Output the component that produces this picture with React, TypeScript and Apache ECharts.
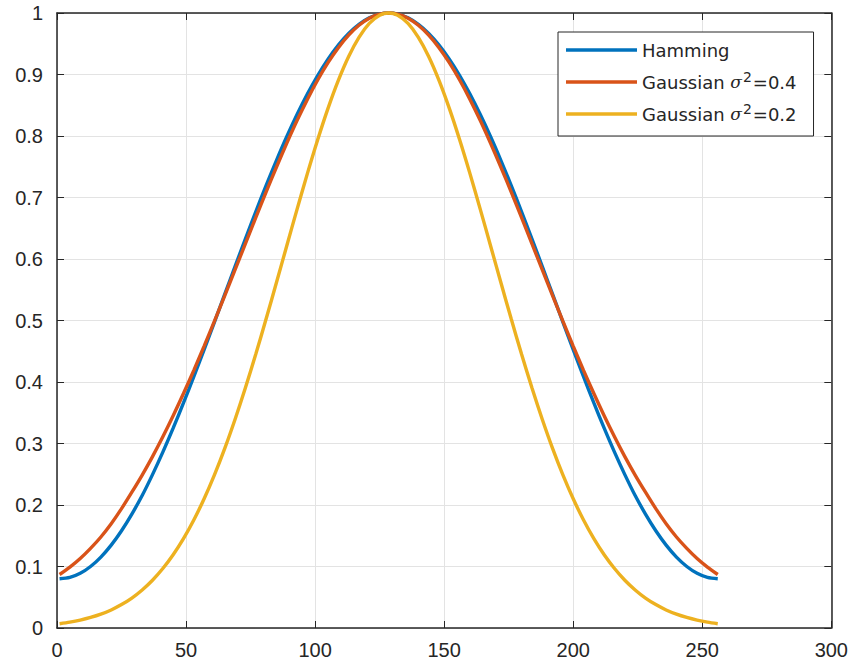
import React, { useEffect, useRef } from "react";
import * as echarts from "echarts";

const xValues = [
  1, 5, 9, 13, 17, 21, 25, 29, 33, 37, 41, 45, 49, 53, 57, 61, 65, 69, 73, 77,
  81, 85, 89, 93, 97, 101, 105, 109, 113, 117, 121, 125, 128.5,
  132, 136, 140, 144, 148, 152, 156, 160, 164, 168, 172, 176, 180, 184, 188,
  192, 196, 200, 204, 208, 212, 216, 220, 224, 228, 232, 236, 240, 244, 248,
  252, 256,
];

const hamming = [
  0.08, 0.0822, 0.0889, 0.1, 0.1153, 0.1347, 0.1581, 0.1852, 0.2154, 0.2494,
  0.2859, 0.3249, 0.3659, 0.4086, 0.4527, 0.4975, 0.5428, 0.588, 0.6328, 0.6767,
  0.7193, 0.7601, 0.7988, 0.8349, 0.8682, 0.8983, 0.925, 0.9479, 0.9668, 0.9816,
  0.9922, 0.9983, 1.0,
  0.9983, 0.9922, 0.9816, 0.9668, 0.9479, 0.925, 0.8983, 0.8682, 0.8349, 0.7988,
  0.7601, 0.7193, 0.6767, 0.6328, 0.588, 0.5428, 0.4975, 0.4527, 0.4086, 0.3659,
  0.3249, 0.2859, 0.2494, 0.2154, 0.1852, 0.1581, 0.1347, 0.1153, 0.1, 0.0889,
  0.0822, 0.08,
];

const gauss04 = [
  0.087, 0.099, 0.113, 0.1295, 0.148, 0.1695, 0.194, 0.2208, 0.2487, 0.2787,
  0.3109, 0.3451, 0.3812, 0.419, 0.4584, 0.499, 0.5405, 0.5826, 0.625, 0.6672,
  0.7087, 0.7492, 0.7881, 0.8251, 0.8595, 0.891, 0.9192, 0.9436, 0.964, 0.98,
  0.9915, 0.9981, 1.0,
  0.9981, 0.9915, 0.98, 0.964, 0.9436, 0.9192, 0.891, 0.8595, 0.8251, 0.7881,
  0.7492, 0.7087, 0.6672, 0.625, 0.5826, 0.5405, 0.499, 0.4584, 0.419, 0.3812,
  0.3451, 0.3109, 0.2787, 0.2487, 0.2208, 0.194, 0.1695, 0.148, 0.1295, 0.113,
  0.099, 0.087,
];

const gauss02 = [
  0.007, 0.0095, 0.0128, 0.0171, 0.0225, 0.0294, 0.0381, 0.0487, 0.0619, 0.0777,
  0.0967, 0.1191, 0.1453, 0.1756, 0.2101, 0.249, 0.2921, 0.3395, 0.3906, 0.4451,
  0.5023, 0.5613, 0.6212, 0.6807, 0.7388, 0.7939, 0.8449, 0.8904, 0.9293, 0.9604,
  0.983, 0.9963, 1.0,
  0.9963, 0.983, 0.9604, 0.9293, 0.8904, 0.8449, 0.7939, 0.7388, 0.6807, 0.6212,
  0.5613, 0.5023, 0.4451, 0.3906, 0.3395, 0.2921, 0.249, 0.2101, 0.1756, 0.1453,
  0.1191, 0.0967, 0.0777, 0.0619, 0.0487, 0.0381, 0.0294, 0.0225, 0.0171, 0.0128,
  0.0095, 0.007,
];

const seriesNames = ["Hamming", "Gaussian σ²=0.4", "Gaussian σ²=0.2"];
const legendRich = [
  "{t|Hamming}",
  "{t|Gaussian }{s|σ}{p|2}{t|=0.4}",
  "{t|Gaussian }{s|σ}{p|2}{t|=0.2}",
];
const colors = ["#0072BD", "#D95319", "#EDB120"];

const xTicks = { min: 0, max: 300, interval: 50 };
const yTicks = { min: 0, max: 1, interval: 0.1 };

export default function App() {
  const ref = useRef<HTMLDivElement>(null);
  useEffect(() => {
    if (!ref.current) return;
    const chart = echarts.init(ref.current, undefined, { renderer: "svg" });
    const axisColor = "#262626";
    const tickFont = {
      fontFamily: "Liberation Sans, Arial, sans-serif",
      fontSize: 20,
      color: "#262626",
    };
    const allSeries = [hamming, gauss04, gauss02];
    chart.setOption({
      animation: false,
      backgroundColor: "#ffffff",
      grid: { left: 57, top: 13, right: 19, bottom: 37, containLabel: false },
      legend: {
        orient: "vertical",
        left: 558,
        top: 32,
        padding: [9, 17, 13, 8],
        itemWidth: 71,
        itemHeight: 3.5,
        itemGap: 11,
        icon: "rect",
        backgroundColor: "#ffffff",
        borderColor: axisColor,
        borderWidth: 1,
        data: seriesNames,
        formatter: (name: string) => legendRich[seriesNames.indexOf(name)],
        textStyle: {
          rich: {
            t: {
              fontFamily: "DejaVu Sans, Verdana, sans-serif",
              fontSize: 18,
              lineHeight: 24,
              color: "#262626",
            },
            s: {
              fontFamily: "DejaVu Serif, serif",
              fontStyle: "italic",
              fontSize: 17,
              lineHeight: 24,
              color: "#262626",
            },
            p: {
              fontFamily: "DejaVu Sans, Verdana, sans-serif",
              fontSize: 14,
              lineHeight: 5,
              verticalAlign: "top",
              padding: [0, 1, 0, 1],
              color: "#262626",
            },
          },
        },
      },
      xAxis: [
        {
          type: "value",
          ...xTicks,
          position: "bottom",
          axisLine: { show: true, onZero: false, lineStyle: { color: axisColor, width: 1.5 } },
          axisTick: { show: true, inside: true, length: 7, lineStyle: { color: axisColor } },
          axisLabel: { ...tickFont, margin: 12 },
          splitLine: { show: true, lineStyle: { color: "#e3e3e3", width: 1 } },
        },
        {
          type: "value",
          ...xTicks,
          position: "top",
          axisLine: { show: true, onZero: false, lineStyle: { color: axisColor, width: 1.5 } },
          axisTick: { show: true, inside: true, length: 7, lineStyle: { color: axisColor } },
          axisLabel: { show: false },
          splitLine: { show: false },
        },
      ],
      yAxis: [
        {
          type: "value",
          ...yTicks,
          position: "left",
          axisLine: { show: true, onZero: false, lineStyle: { color: axisColor, width: 1.5 } },
          axisTick: { show: true, inside: true, length: 7, lineStyle: { color: axisColor } },
          axisLabel: { ...tickFont, margin: 14 },
          splitLine: { show: true, lineStyle: { color: "#e3e3e3", width: 1 } },
        },
        {
          type: "value",
          ...yTicks,
          position: "right",
          axisLine: { show: true, onZero: false, lineStyle: { color: axisColor, width: 1.5 } },
          axisTick: { show: true, inside: true, length: 7, lineStyle: { color: axisColor } },
          axisLabel: { show: false },
          splitLine: { show: false },
        },
      ],
      series: allSeries.map((vals, i) => ({
        name: seriesNames[i],
        type: "line",
        xAxisIndex: 0,
        yAxisIndex: 0,
        data: xValues.map((x, j) => [x, vals[j]]),
        showSymbol: false,
        smooth: 0.3,
        clip: false,
        lineStyle: { color: colors[i], width: 3.4 },
        itemStyle: { color: colors[i] },
        z: 3 + i,
      })),
    });
    return () => chart.dispose();
  }, []);
  return (
    <div
      ref={ref}
      style={{ position: "absolute", left: 0, top: 0, width: 851, height: 665 }}
    />
  );
}
